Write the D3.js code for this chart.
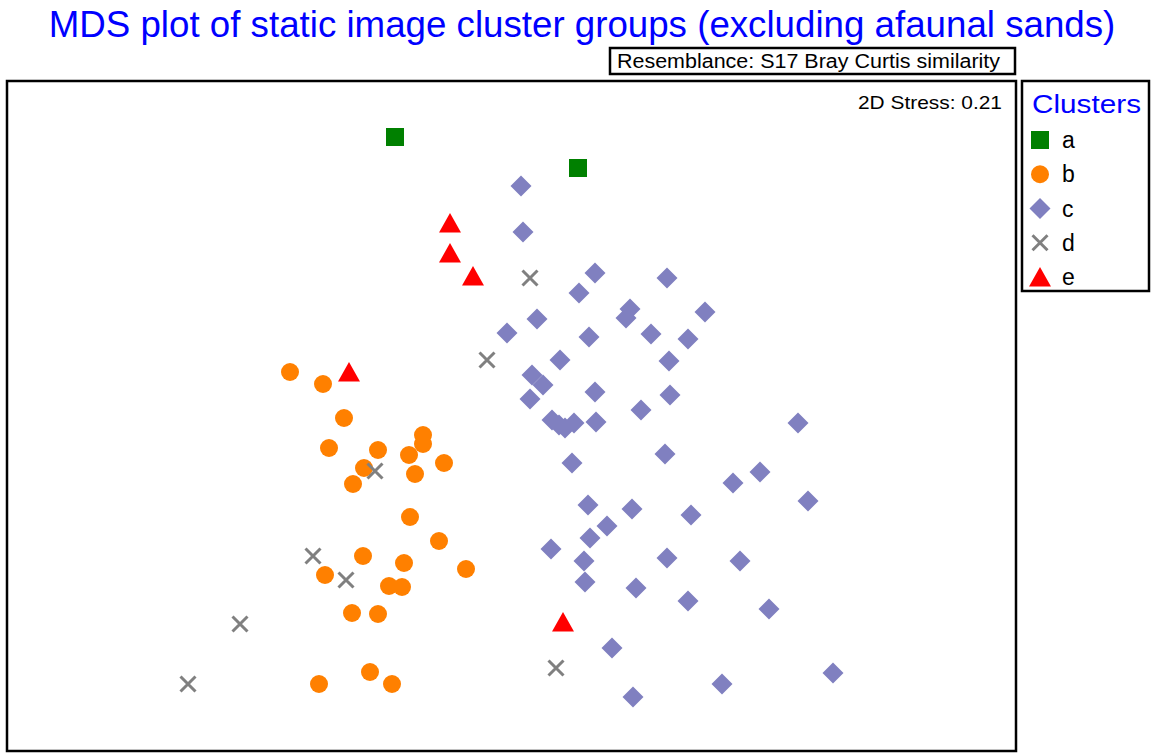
<!DOCTYPE html>
<html>
<head>
<meta charset="utf-8">
<script src="https://cdn.jsdelivr.net/npm/d3@7"></script>
<style>
  body { margin: 0; background: #fff; }
  text { font-family: "Liberation Sans", Arial, sans-serif; }
</style>
</head>
<body>
<div id="chart"></div>
<script>
// MDS ordination positions (arbitrary MDS units, y grows downward)
const clusters = ["a", "b", "c", "d", "e"];
const clusterA = [[395,137],[578,168]];
const clusterB = [[290,372],[323,384],[344,418],[423,435],[423,444],[329,448],[378,450],[409,455],
  [444,463],[364,468],[415,474],[353,484],[410,517],[439,541],[363,556],[404,563],[466,569],
  [325,575],[389,586],[402,587],[352,613],[378,614],[370,672],[319,684],[392,684]];
const clusterC = [[521,186],[523,232],[595,273],[667,278],[579,293],[630,309],[626,318],[705,312],
  [537,319],[507,333],[589,337],[651,334],[688,339],[560,360],[669,361],[532,375],[543,385],
  [595,392],[670,395],[530,399],[641,410],[552,420],[559,425],[565,428],[574,423],[596,422],
  [798,423],[665,454],[572,463],[760,472],[733,483],[808,501],[588,505],[632,509],[691,515],
  [607,526],[590,538],[551,549],[584,561],[667,558],[740,561],[585,582],[636,588],[688,601],
  [769,609],[612,648],[833,673],[722,684],[633,697]];
const clusterD = [[530,278],[487,360],[375,471],[313,556],[346,580],[240,624],[188,684],[556,668]];
const clusterE = [[450,223],[450,253],[473,276],[349,372],[563,622]];
const stress = "2D Stress: 0.21";

const width = 1154, height = 753;
const frame = {x0: 7, y0: 81, x1: 1016, y1: 751};

const svg = d3.select("#chart").append("svg")
  .attr("width", width)
  .attr("height", height);

const x = d3.scaleLinear().domain([7, 1016]).range([frame.x0, frame.x1]);
const y = d3.scaleLinear().domain([81, 751]).range([frame.y0, frame.y1]);

const colors = {a: "#008000", b: "#ff8000", c: "#8080c0", d: "#808080", e: "#ff0000"};

// marker shapes, centred on the point
function marker(g, k) {
  if (k === "a") {
    g.append("rect").attr("x", -9).attr("y", -9).attr("width", 18).attr("height", 18)
      .attr("fill", colors.a);
  } else if (k === "b") {
    g.append("circle").attr("r", 9).attr("fill", colors.b);
  } else if (k === "c") {
    g.append("path").attr("d", "M0,-10.5L10.5,0L0,10.5L-10.5,0Z").attr("fill", colors.c);
  } else if (k === "d") {
    g.append("path").attr("d", "M-7.5,-7.5L7.5,7.5M-7.5,7.5L7.5,-7.5")
      .attr("stroke", colors.d).attr("stroke-width", 3).attr("fill", "none");
  } else {
    g.append("path").attr("d", "M0,-10L11,9.5L-11,9.5Z").attr("fill", colors.e);
  }
}

// title
svg.append("text")
  .attr("x", 582).attr("y", 37)
  .attr("text-anchor", "middle")
  .attr("font-size", 36.7)
  .attr("fill", "#0000ff")
  .text("MDS plot of static image cluster groups (excluding afaunal sands)");

// resemblance box
svg.append("rect")
  .attr("x", 610).attr("y", 48).attr("width", 405).attr("height", 26)
  .attr("fill", "none").attr("stroke", "#000").attr("stroke-width", 2.5);
svg.append("text")
  .attr("x", 617).attr("y", 68)
  .attr("font-size", 20)
  .attr("textLength", 383)
  .attr("lengthAdjust", "spacingAndGlyphs")
  .text("Resemblance: S17 Bray Curtis similarity");

// plot frame
svg.append("rect")
  .attr("x", frame.x0).attr("y", frame.y0)
  .attr("width", frame.x1 - frame.x0).attr("height", frame.y1 - frame.y0)
  .attr("fill", "none").attr("stroke", "#000").attr("stroke-width", 2.5);

svg.append("text")
  .attr("x", 858).attr("y", 109)
  .attr("font-size", 18.5)
  .attr("textLength", 144)
  .attr("lengthAdjust", "spacingAndGlyphs")
  .text(stress);

// points, drawn cluster by cluster
const sets = {a: clusterA, b: clusterB, c: clusterC, d: clusterD, e: clusterE};
["c", "b", "a", "d", "e"].forEach(k => {
  svg.append("g").selectAll("g")
    .data(sets[k])
    .join("g")
    .attr("transform", d => `translate(${x(d[0])},${y(d[1])})`)
    .each(function() { marker(d3.select(this), k); });
});

// legend
const legend = svg.append("g");
legend.append("rect")
  .attr("x", 1022).attr("y", 81).attr("width", 127).attr("height", 210)
  .attr("fill", "none").attr("stroke", "#000").attr("stroke-width", 2.5);
legend.append("text")
  .attr("x", 1032).attr("y", 113)
  .attr("font-size", 26)
  .attr("fill", "#0000ff")
  .attr("textLength", 109)
  .attr("lengthAdjust", "spacingAndGlyphs")
  .text("Clusters");

const ly = d3.scalePoint().domain(clusters).range([140, 277]);
const items = legend.selectAll("g.item")
  .data(clusters)
  .join("g")
  .attr("class", "item")
  .attr("transform", d => `translate(1040,${ly(d)})`);
items.each(function(d) { marker(d3.select(this), d); });
items.append("text")
  .attr("x", 22).attr("y", 8)
  .attr("font-size", 23)
  .text(d => d);
</script>
</body>
</html>
